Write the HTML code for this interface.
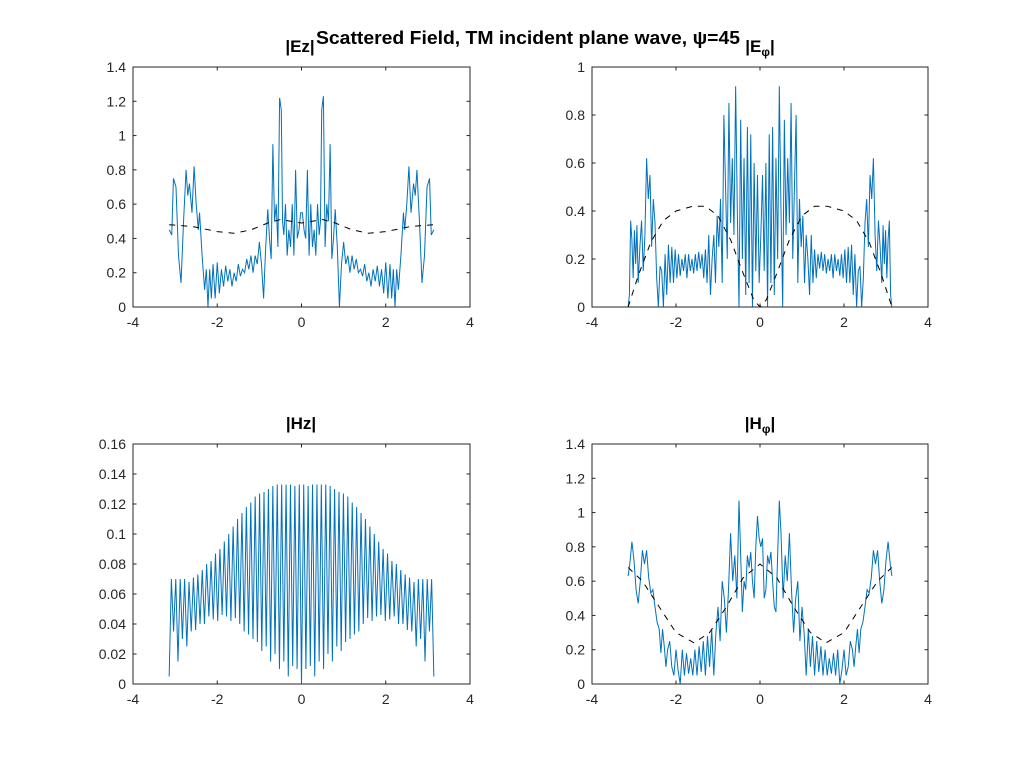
<!DOCTYPE html>
<html><head><meta charset="utf-8"><style>
html,body{margin:0;padding:0;background:#fff;}
svg{display:block;font-family:"Liberation Sans",sans-serif;}
</style></head><body>
<svg id="fig" width="1024" height="768" viewBox="0 0 1024 768">
<rect width="1024" height="768" fill="#fff"/>
<text x="300" y="52" font-size="17" font-weight="bold" text-anchor="middle">|Ez|</text>
<text x="316" y="44" font-size="18" font-weight="bold" textLength="424" lengthAdjust="spacingAndGlyphs">Scattered Field, TM incident plane wave, ψ=45</text>
<text x="760" y="52" font-size="17" font-weight="bold" text-anchor="middle">|E<tspan font-size="12" dy="4">φ</tspan><tspan dy="-4">|</tspan></text>
<text x="301" y="429" font-size="17" font-weight="bold" text-anchor="middle">|Hz|</text>
<text x="760" y="429" font-size="17" font-weight="bold" text-anchor="middle">|H<tspan font-size="12" dy="4">φ</tspan><tspan dy="-4">|</tspan></text>
</svg>
<script>
const xTicks=[-4,-2,0,2,4];
const ezTicks=[0,0.2,0.4,0.6,0.8,1,1.2,1.4];
const ephiTicks=[0,0.2,0.4,0.6,0.8,1];
const hzTicks=[0,0.02,0.04,0.06,0.08,0.1,0.12,0.14,0.16];
const hphiTicks=[0,0.2,0.4,0.6,0.8,1,1.2,1.4];

const ezTheta=[-3.14,-3.08,-3.04,-2.98,-2.92,-2.86,-2.8,-2.74,-2.7,-2.66,-2.6,-2.55,-2.5,-2.45,-2.42,-2.36,-2.3,-2.26,-2.22,-2.18,-2.14,-2.1,-2.05,-2.0,-1.95,-1.9,-1.85,-1.8,-1.75,-1.7,-1.65,-1.6,-1.55,-1.5,-1.45,-1.4,-1.35,-1.3,-1.25,-1.2,-1.15,-1.1,-1.05,-1.0,-0.95,-0.9,-0.85,-0.8,-0.76,-0.72,-0.68,-0.64,-0.6,-0.56,-0.52,-0.48,-0.45,-0.42,-0.38,-0.34,-0.3,-0.26,-0.22,-0.18,-0.14,-0.1,-0.06,-0.02,0.02,0.06,0.1,0.14,0.18,0.22,0.26,0.3,0.34,0.38,0.42,0.45,0.48,0.52,0.56,0.6,0.64,0.68,0.72,0.76,0.8,0.85,0.9,0.95,1.0,1.05,1.1,1.15,1.2,1.25,1.3,1.35,1.4,1.45,1.5,1.55,1.6,1.65,1.7,1.75,1.8,1.85,1.9,1.95,2.0,2.05,2.1,2.14,2.18,2.22,2.26,2.3,2.36,2.42,2.45,2.5,2.55,2.6,2.66,2.7,2.74,2.8,2.86,2.92,2.98,3.04,3.08,3.14];
const ezVals=[0.45,0.42,0.75,0.7,0.3,0.14,0.5,0.8,0.65,0.72,0.55,0.82,0.6,0.45,0.55,0.3,0.1,0.22,0.0,0.22,0.05,0.25,0.05,0.26,0.08,0.22,0.12,0.24,0.15,0.22,0.12,0.2,0.15,0.25,0.18,0.22,0.2,0.28,0.22,0.3,0.2,0.3,0.25,0.38,0.25,0.05,0.35,0.57,0.4,0.28,0.95,0.5,0.6,0.35,1.22,1.15,0.5,0.42,0.6,0.3,0.45,0.35,0.6,0.3,0.8,0.4,0.45,0.55,0.55,0.45,0.4,0.8,0.3,0.6,0.35,0.45,0.3,0.6,0.42,0.5,1.15,1.23,0.35,0.6,0.5,0.95,0.28,0.4,0.57,0.35,0.0,0.25,0.38,0.25,0.3,0.2,0.3,0.22,0.28,0.2,0.22,0.18,0.25,0.15,0.2,0.12,0.22,0.15,0.24,0.12,0.22,0.08,0.26,0.05,0.25,0.05,0.22,0.0,0.22,0.1,0.3,0.55,0.45,0.6,0.82,0.55,0.72,0.65,0.8,0.5,0.14,0.3,0.7,0.75,0.42,0.45];
const ezRefTheta=[-3.14,-2.6,-2.0,-1.6,-1.2,-0.8,-0.5,0,0.5,0.8,1.2,1.6,2.0,2.6,3.14];
const ezRefVals=[0.48,0.47,0.44,0.43,0.45,0.49,0.51,0.49,0.51,0.49,0.45,0.43,0.44,0.47,0.48];

const ephiTheta=[-3.14,-3.11,-3.08,-3.05,-3.02,-2.99,-2.96,-2.93,-2.9,-2.86,-2.82,-2.78,-2.74,-2.7,-2.66,-2.62,-2.58,-2.54,-2.5,-2.46,-2.42,-2.38,-2.34,-2.3,-2.26,-2.22,-2.18,-2.14,-2.1,-2.06,-2.02,-1.98,-1.94,-1.9,-1.86,-1.82,-1.78,-1.74,-1.7,-1.66,-1.62,-1.58,-1.54,-1.5,-1.46,-1.42,-1.38,-1.34,-1.3,-1.26,-1.22,-1.18,-1.14,-1.1,-1.06,-1.02,-0.98,-0.94,-0.9,-0.86,-0.82,-0.78,-0.74,-0.7,-0.66,-0.62,-0.58,-0.54,-0.5,-0.46,-0.42,-0.38,-0.34,-0.3,-0.26,-0.22,-0.18,-0.14,-0.1,-0.06,-0.02,0.02,0.06,0.1,0.14,0.18,0.22,0.26,0.3,0.34,0.38,0.42,0.46,0.5,0.54,0.58,0.62,0.66,0.7,0.74,0.78,0.82,0.86,0.9,0.94,0.98,1.02,1.06,1.1,1.14,1.18,1.22,1.26,1.3,1.34,1.38,1.42,1.46,1.5,1.54,1.58,1.62,1.66,1.7,1.74,1.78,1.82,1.86,1.9,1.94,1.98,2.02,2.06,2.1,2.14,2.18,2.22,2.26,2.3,2.34,2.38,2.42,2.46,2.5,2.54,2.58,2.62,2.66,2.7,2.74,2.78,2.82,2.86,2.9,2.93,2.96,2.99,3.02,3.05,3.08,3.11,3.14];
const ephiVals=[0.0,0.05,0.36,0.28,0.12,0.32,0.18,0.34,0.1,0.25,0.36,0.15,0.3,0.62,0.45,0.55,0.25,0.45,0.35,0.12,0.0,0.17,0.15,0.0,0.22,0.05,0.26,0.1,0.25,0.1,0.24,0.12,0.22,0.13,0.2,0.15,0.22,0.12,0.22,0.15,0.2,0.14,0.22,0.15,0.23,0.16,0.22,0.12,0.24,0.1,0.3,0.05,0.2,0.3,0.1,0.38,0.25,0.45,0.1,0.8,0.5,0.2,0.85,0.35,0.62,0.3,0.92,0.4,0.0,0.78,0.2,0.62,0.05,0.75,0.1,0.72,0.0,0.6,0.15,0.55,0.1,0.3,0.55,0.15,0.6,0.0,0.72,0.1,0.75,0.05,0.62,0.2,0.92,0.4,0.0,0.78,0.3,0.62,0.35,0.85,0.2,0.5,0.8,0.1,0.45,0.25,0.38,0.1,0.3,0.2,0.05,0.3,0.1,0.24,0.12,0.22,0.16,0.23,0.15,0.22,0.14,0.2,0.15,0.22,0.12,0.22,0.15,0.2,0.13,0.22,0.12,0.24,0.1,0.25,0.1,0.26,0.05,0.22,0.0,0.15,0.17,0.0,0.12,0.35,0.45,0.25,0.55,0.45,0.62,0.3,0.15,0.36,0.25,0.1,0.34,0.18,0.32,0.12,0.28,0.36,0.05,0.0];
const ephiRefTheta=[-3.14,-2.9,-2.6,-2.3,-2.0,-1.6,-1.3,-1.0,-0.7,-0.4,-0.15,0,0.15,0.4,0.7,1.0,1.3,1.6,2.0,2.3,2.6,2.9,3.14];
const ephiRefVals=[0,0.13,0.27,0.36,0.4,0.42,0.42,0.38,0.28,0.14,0.03,0,0.03,0.14,0.28,0.38,0.42,0.42,0.4,0.36,0.27,0.13,0];

const hzVals=[0.005,0.070,0.035,0.070,0.015,0.070,0.030,0.070,0.025,0.068,0.035,0.071,0.036,0.073,0.040,0.076,0.040,0.080,0.045,0.082,0.043,0.087,0.042,0.090,0.046,0.095,0.045,0.100,0.042,0.105,0.044,0.110,0.040,0.114,0.035,0.118,0.033,0.121,0.030,0.125,0.028,0.127,0.022,0.128,0.025,0.130,0.015,0.132,0.020,0.133,0.010,0.133,0.015,0.133,0.005,0.133,0.012,0.132,0.010,0.133,0.000,0.133,0.010,0.132,0.012,0.133,0.005,0.133,0.015,0.133,0.010,0.133,0.020,0.132,0.015,0.130,0.025,0.128,0.022,0.127,0.028,0.125,0.030,0.121,0.033,0.118,0.035,0.114,0.040,0.110,0.044,0.105,0.042,0.100,0.045,0.095,0.046,0.090,0.042,0.087,0.043,0.082,0.045,0.080,0.040,0.076,0.040,0.073,0.036,0.071,0.035,0.068,0.025,0.070,0.030,0.070,0.015,0.070,0.035,0.070,0.005];

const hphiTheta=[-3.14,-3.1,-3.05,-3.0,-2.95,-2.9,-2.85,-2.8,-2.75,-2.7,-2.65,-2.6,-2.55,-2.5,-2.45,-2.4,-2.36,-2.32,-2.28,-2.24,-2.2,-2.15,-2.1,-2.05,-2.0,-1.95,-1.9,-1.85,-1.8,-1.75,-1.7,-1.65,-1.6,-1.55,-1.5,-1.45,-1.4,-1.35,-1.3,-1.25,-1.2,-1.15,-1.1,-1.05,-1.0,-0.95,-0.9,-0.85,-0.8,-0.75,-0.7,-0.65,-0.6,-0.55,-0.5,-0.46,-0.42,-0.38,-0.34,-0.3,-0.26,-0.22,-0.18,-0.14,-0.1,-0.06,-0.02,0.02,0.06,0.1,0.14,0.18,0.22,0.26,0.3,0.34,0.38,0.42,0.46,0.5,0.55,0.6,0.65,0.7,0.75,0.8,0.85,0.9,0.95,1.0,1.05,1.1,1.15,1.2,1.25,1.3,1.35,1.4,1.45,1.5,1.55,1.6,1.65,1.7,1.75,1.8,1.85,1.9,1.95,2.0,2.05,2.1,2.15,2.2,2.24,2.28,2.32,2.36,2.4,2.45,2.5,2.55,2.6,2.65,2.7,2.75,2.8,2.85,2.9,2.95,3.0,3.05,3.1,3.14];
const hphiVals=[0.63,0.7,0.83,0.72,0.55,0.47,0.6,0.78,0.7,0.78,0.62,0.53,0.55,0.45,0.36,0.32,0.18,0.32,0.22,0.1,0.2,0.25,0.1,0.05,0.2,0.08,0.0,0.2,0.05,0.18,0.06,0.15,0.05,0.2,0.05,0.22,0.07,0.25,0.05,0.28,0.1,0.32,0.05,0.3,0.45,0.25,0.6,0.5,0.3,0.55,0.88,0.6,0.75,0.5,1.07,0.75,0.42,0.6,0.55,0.75,0.68,0.77,0.6,0.5,0.8,0.98,0.85,0.8,0.85,0.5,0.55,0.75,0.7,0.77,0.6,0.45,0.42,0.75,1.07,0.88,0.5,0.75,0.6,0.88,0.55,0.3,0.5,0.6,0.25,0.45,0.3,0.05,0.32,0.1,0.28,0.05,0.25,0.07,0.22,0.05,0.2,0.05,0.15,0.06,0.18,0.05,0.2,0.0,0.08,0.2,0.05,0.1,0.25,0.2,0.1,0.22,0.32,0.18,0.32,0.36,0.45,0.55,0.53,0.62,0.78,0.7,0.78,0.6,0.47,0.55,0.72,0.83,0.7,0.63];
const hphiRefTheta=[-3.14,-2.8,-2.4,-2.0,-1.57,-1.2,-0.8,-0.4,0,0.4,0.8,1.2,1.57,2.0,2.4,2.8,3.14];
const hphiRefVals=[0.68,0.6,0.45,0.3,0.24,0.3,0.45,0.62,0.7,0.62,0.45,0.3,0.24,0.3,0.45,0.6,0.68];

const NS='http://www.w3.org/2000/svg';
const svg=document.getElementById('fig');
function mk(tag,attrs,parent){const e=document.createElementNS(NS,tag);for(const k in attrs)e.setAttribute(k,attrs[k]);(parent||svg).appendChild(e);return e;}

function makeAxes(name,left,top,w,h,ymax,yTicks,yFmt){
  const g=mk('g',{});
  
  
  svg.insertBefore(g,svg.children[1]);
  const sx=v=>left+(v+4)/8*w;
  const sy=v=>top+h-v/ymax*h;
  const tg=mk('g',{'font-size':'14',fill:'#262626'},g);
  xTicks.forEach(t=>{
    const x=sx(t);
    mk('line',{x1:x,y1:top+h,x2:x,y2:top+h-3.5,stroke:'#262626','stroke-width':1},g);
    mk('line',{x1:x,y1:top,x2:x,y2:top+3.5,stroke:'#262626','stroke-width':1},g);
    const tx=mk('text',{x:x,y:top+h+20,'text-anchor':'middle'},tg);
    tx.textContent=t;
    
    
  });
  yTicks.forEach(t=>{
    const y=sy(t);
    mk('line',{x1:left,y1:y,x2:left+3.5,y2:y,stroke:'#262626','stroke-width':1},g);
    mk('line',{x1:left+w,y1:y,x2:left+w-3.5,y2:y,stroke:'#262626','stroke-width':1},g);
    const ty=mk('text',{x:left-7,y:y+5,'text-anchor':'end'},tg);
    ty.textContent=yFmt(t);
    
    
  });
  const plot=mk('g',{},g);
  mk('rect',{x:left,y:top,width:w,height:h,fill:'none',stroke:'#262626','stroke-width':1},g);
  return {sx,sy,plot};
}
function line(ax,xs,ys,name,color,dash){
  const pts=xs.map((x,i)=>ax.sx(x).toFixed(2)+','+ax.sy(ys[i]).toFixed(2)).join(' ');
  const attrs={points:pts,fill:'none',stroke:color,'stroke-width':1};
  if(dash)attrs['stroke-dasharray']=dash;
  const p=mk('polyline',attrs,ax.plot);
  
  
}
const fmt=t=>String(+t.toFixed(2));
const a1=makeAxes('ez-axes',133,67,337,240,1.4,ezTicks,fmt);
line(a1,ezTheta,ezVals,'ez-line','#0072BD');
line(a1,ezRefTheta,ezRefVals,'ez-reference-line','#000','6,6');
const a2=makeAxes('ephi-axes',592,67,336,240,1,ephiTicks,fmt);
line(a2,ephiTheta,ephiVals,'ephi-line','#0072BD');
line(a2,ephiRefTheta,ephiRefVals,'ephi-reference-line','#000','6,6');
const a3=makeAxes('hz-axes',133,444,337,240,0.16,hzTicks,fmt);
const hzTheta=hzVals.map((v,i)=>-3.1416+i*6.2832/(hzVals.length-1));
line(a3,hzTheta,hzVals,'hz-line','#0072BD');
const a4=makeAxes('hphi-axes',592,444,336,240,1.4,hphiTicks,fmt);
line(a4,hphiTheta,hphiVals,'hphi-line','#0072BD');
line(a4,hphiRefTheta,hphiRefVals,'hphi-reference-line','#000','6,6');
</script>
</body></html>
